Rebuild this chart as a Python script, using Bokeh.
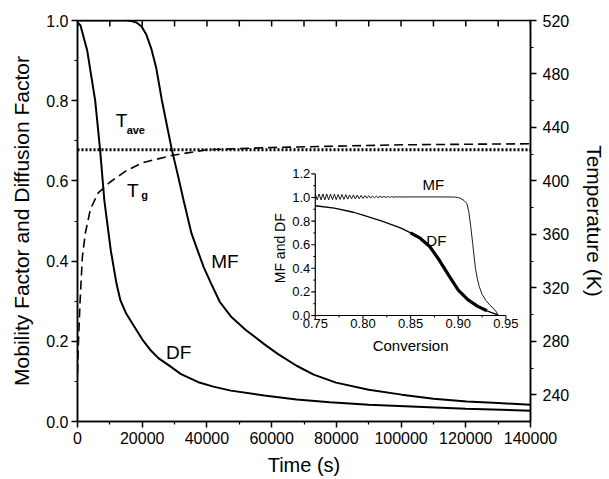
import math
import numpy as np
from bokeh.plotting import figure
from bokeh.models import (Range1d, LinearAxis, FixedTicker, PrintfTickFormatter,
                          Label)
from bokeh.embed import file_html
from bokeh.resources import INLINE

# ---------------- main plot data ----------------
mf_time = [0, 5000, 10000, 15000, 16500, 18200, 19800, 21250, 22800, 24300, 26100,
           29150, 31000, 32800, 35230, 37140, 39000, 41300, 44000, 47400, 52000,
           57700, 62000, 67700, 73000, 79900, 90000, 100200, 110000, 120300,
           130000, 140000]
mf_val = [1.0, 1.0, 1.0, 1.0, 0.999, 0.995, 0.985, 0.965, 0.93, 0.883, 0.80,
          0.678, 0.615, 0.551, 0.469, 0.426, 0.385, 0.344, 0.298, 0.262, 0.228,
          0.193, 0.168, 0.139, 0.117, 0.097, 0.079, 0.067, 0.057, 0.05,
          0.046, 0.042]

df_time = [0, 900, 3000, 5470, 6980, 8300, 10300, 12050, 13270, 15000, 17000,
           20000, 22680, 25000, 28240, 32000, 37350, 42000, 47400, 57700, 67700,
           78000, 90000, 105000, 120000, 140000]
df_val = [0.995, 0.988, 0.925, 0.80, 0.678, 0.551, 0.426, 0.344, 0.302, 0.27, 0.244,
          0.205, 0.177, 0.158, 0.14, 0.118, 0.098, 0.087, 0.077, 0.065, 0.055,
          0.048, 0.042, 0.037, 0.032, 0.027]

tg_time = [0, 300, 800, 1500, 2430, 4000, 6400, 10000, 15000, 20000, 29000,
           40000, 60000, 80000, 100000, 140000]
tg_kelvin = [256, 280, 310, 343, 361, 379, 391, 399, 407.5, 413.5, 419,
             423.3, 425, 426, 427, 427.8]

tave_time = [0, 140000]
tave_kelvin = [423.3, 423.3]

x_major = [0, 20000, 40000, 60000, 80000, 100000, 120000, 140000]
x_minor = [10000, 30000, 50000, 70000, 90000, 110000, 130000]
x_top = [0, 10000, 20000, 30000, 40000, 50000, 60000, 70000, 80000, 90000,
         100000, 110000, 120000, 130000, 140000]
y_major = [0.0, 0.2, 0.4, 0.6, 0.8, 1.0]
y_minor = [0.1, 0.3, 0.5, 0.7, 0.9]
t_major = [240, 280, 320, 360, 400, 440, 480, 520]
t_minor = [260, 300, 340, 380, 420, 460, 500]

# ---------------- inset data ----------------
conv_mf = [0.750, 0.752, 0.754, 0.756, 0.758, 0.760, 0.762, 0.764, 0.766, 0.768,
           0.770, 0.772, 0.774, 0.776, 0.778, 0.780, 0.782, 0.784, 0.786, 0.788,
           0.790, 0.792, 0.794, 0.796, 0.798, 0.800, 0.802, 0.804, 0.806, 0.808,
           0.810, 0.812, 0.814, 0.816, 0.818, 0.820, 0.822, 0.824, 0.826, 0.828,
           0.830, 0.832, 0.834, 0.836, 0.838, 0.840, 0.845, 0.860, 0.880, 0.895,
           0.900, 0.903, 0.906, 0.909, 0.911, 0.913, 0.915, 0.917, 0.918, 0.920,
           0.922, 0.925, 0.929, 0.933, 0.9366, 0.940, 0.942]
mf_inset = [1.03, 0.98, 1.03, 0.98, 1.03, 0.98, 1.03, 0.98, 1.028, 0.982,
            1.028, 0.982, 1.026, 0.984, 1.026, 0.984, 1.024, 0.986, 1.022, 0.988,
            1.022, 0.988, 1.02, 0.99, 1.018, 0.992, 1.016, 0.994, 1.015, 0.995,
            1.013, 0.997, 1.012, 0.998, 1.011, 0.999, 1.01, 1.0, 1.009, 1.001,
            1.008, 1.002, 1.007, 1.003, 1.006, 1.004, 1.005, 1.005, 1.005, 1.004,
            1.0, 0.99, 0.975, 0.95, 0.88, 0.76, 0.62, 0.47, 0.40, 0.31,
            0.245, 0.18, 0.127, 0.09, 0.062, 0.03, 0.0]

conv_df = [0.75, 0.77, 0.79, 0.80, 0.81, 0.82, 0.83, 0.84, 0.85, 0.86, 0.87,
           0.88, 0.89, 0.90, 0.91, 0.92, 0.93, 0.94, 0.942]
df_inset = [0.93, 0.91, 0.875, 0.85, 0.825, 0.80, 0.77, 0.74, 0.70, 0.655, 0.585,
            0.47, 0.34, 0.215, 0.135, 0.08, 0.04, 0.01, 0.0]

cx_major = [0.75, 0.80, 0.85, 0.90, 0.95]
cx_minor = [0.775, 0.825, 0.875, 0.925]
cy_major = [0.0, 0.2, 0.4, 0.6, 0.8, 1.0, 1.2]
cy_minor = [0.1, 0.3, 0.5, 0.7, 0.9, 1.1]

FONT = "Liberation Sans"

# ---------------- figure ----------------
p = figure(width=609, height=479, output_backend="svg", toolbar_location=None,
           x_range=Range1d(0, 140000), y_range=Range1d(0, 1),
           min_border_left=77, min_border_right=71, min_border_top=20,
           min_border_bottom=58)
p.background_fill_color = "white"
p.border_fill_color = "white"
p.outline_line_color = "black"
p.outline_line_width = 1.5
p.grid.visible = False

# inset geometry expressed as ranges laid over the main frame
# (frame: 77..538 px wide, 20..421 px tall; inset: 0.75 at 319 px, 0.0 at 315 px)
inset_px_per_x = 970.0
inset_px_per_y = 118.0
p.extra_x_ranges = {"cx": Range1d(0.75 - (319 - 77) / inset_px_per_x,
                                  0.75 + (538 - 319) / inset_px_per_x)}
p.extra_y_ranges = {"T": Range1d(220, 520),
                    "cy": Range1d(-(421 - 315) / inset_px_per_y,
                                  (315 - 20) / inset_px_per_y)}

def style_axis(ax, label_size="16px"):
    ax.axis_line_width = 1.5
    ax.axis_line_color = "black"
    ax.major_tick_line_width = 1.5
    ax.minor_tick_line_width = 1.2
    ax.major_tick_in = 0
    ax.major_tick_out = 6
    ax.minor_tick_in = 0
    ax.minor_tick_out = 3
    ax.major_label_text_font = FONT
    ax.major_label_text_font_size = label_size
    ax.major_label_text_color = "black"
    ax.axis_label_text_font = FONT
    ax.axis_label_text_font_style = "normal"
    ax.axis_label_text_color = "black"

xa = p.xaxis[0]
style_axis(xa)
xa.ticker = FixedTicker(ticks=x_major, minor_ticks=x_minor)
xa.formatter = PrintfTickFormatter(format="%d")
xa.axis_label = "Time (s)"
xa.axis_label_text_font_size = "20px"
xa.major_label_standoff = 4
xa.axis_label_standoff = 7

ya = p.yaxis[0]
style_axis(ya)
ya.ticker = FixedTicker(ticks=y_major, minor_ticks=y_minor)
ya.formatter = PrintfTickFormatter(format="%.1f")
ya.axis_label = "Mobility Factor and Diffusion Factor"
ya.axis_label_text_font_size = "21px"
ya.major_label_standoff = 3
ya.axis_label_standoff = 10

ra = LinearAxis(y_range_name="T", ticker=FixedTicker(ticks=t_major, minor_ticks=t_minor),
                formatter=PrintfTickFormatter(format="%d"),
                axis_label="Temperature (K)")
style_axis(ra)
ra.axis_label_text_font_size = "21px"
ra.major_label_standoff = 6
ra.axis_label_standoff = 11
p.add_layout(ra, "right")

# top frame ticks (pointing into the plot)
p.ray(x=x_top, y=[1.0] * len(x_top), length=6, length_units="screen",
      angle=-math.pi / 2, line_color="black", line_width=1.5)

# ---------------- main curves ----------------
p.line(mf_time, mf_val, line_color="black", line_width=2)
p.line(df_time, df_val, line_color="black", line_width=2)
p.line(tave_time, tave_kelvin, y_range_name="T", line_color="black",
       line_width=2.8, line_dash="2 2")
p.line(tg_time, tg_kelvin, y_range_name="T", line_color="black",
       line_width=1.6, line_dash="9 5")

def add_label(x, y, text, size, bold=False, xr="default", yr="default", angle=0,
              align="left", baseline="middle", xoff=0, yoff=0):
    lab = Label(x=x, y=y, text=text, text_font=FONT, text_font_size=size,
                text_font_style="bold" if bold else "normal", text_color="black",
                text_align=align, text_baseline=baseline, angle=angle,
                x_range_name=xr, y_range_name=yr, x_offset=xoff, y_offset=yoff)
    p.add_layout(lab)

add_label(11844, 0.7506, "T", "19px")
add_label(15185, 0.728, "ave", "11px", bold=True)
add_label(15300, 0.577, "T", "19px")
add_label(19700, 0.566, "g", "11px", bold=True)
add_label(41300, 0.398, "MF", "19px")
add_label(27330, 0.1733, "DF", "19px")

# ---------------- inset ----------------
p.line(conv_mf, mf_inset, x_range_name="cx", y_range_name="cy",
       line_color="black", line_width=0.9)
p.line(conv_df, df_inset, x_range_name="cx", y_range_name="cy",
       line_color="black", line_width=1.3)
cdf = np.array(conv_df)
mask = (cdf >= 0.85) & (cdf <= 0.93)
p.line(list(cdf[mask]), list(np.array(df_inset)[mask]), x_range_name="cx",
       y_range_name="cy", line_color="black", line_width=3.2)

# inset axes
p.line([cx_major[0], cx_major[-1]], [cy_major[0], cy_major[0]], x_range_name="cx",
       y_range_name="cy", line_color="black", line_width=1.2)
p.line([cx_major[0], cx_major[0]], [cy_major[0], cy_major[-1]], x_range_name="cx",
       y_range_name="cy", line_color="black", line_width=1.2)
p.ray(x=cx_major, y=[0.0] * len(cx_major), length=4, length_units="screen",
      angle=-math.pi / 2, x_range_name="cx", y_range_name="cy",
      line_color="black", line_width=1.1)
p.ray(x=cx_minor, y=[0.0] * len(cx_minor), length=2, length_units="screen",
      angle=-math.pi / 2, x_range_name="cx", y_range_name="cy",
      line_color="black", line_width=1)
p.ray(x=[0.75] * len(cy_major), y=cy_major, length=4, length_units="screen",
      angle=math.pi, x_range_name="cx", y_range_name="cy",
      line_color="black", line_width=1.1)
p.ray(x=[0.75] * len(cy_minor), y=cy_minor, length=2, length_units="screen",
      angle=math.pi, x_range_name="cx", y_range_name="cy",
      line_color="black", line_width=1)

for v in cx_major:
    add_label(v, 0.0, "%.2f" % v, "13px", xr="cx", yr="cy", align="center",
              yoff=-8)
for v in cy_major:
    add_label(cx_major[0], v, "%.1f" % v, "13px", xr="cx", yr="cy", align="right",
              xoff=-5)

add_label(0.85, -0.258, "Conversion", "15px", xr="cx", yr="cy", align="center")
add_label(0.7125, 0.57, "MF and DF", "14px", xr="cx", yr="cy", angle=math.pi / 2,
          align="center")
add_label(0.8624, 1.11, "MF", "15px", xr="cx", yr="cy")
add_label(0.8665, 0.636, "DF", "15px", xr="cx", yr="cy")

open("out.html", "w").write(file_html(p, INLINE))
